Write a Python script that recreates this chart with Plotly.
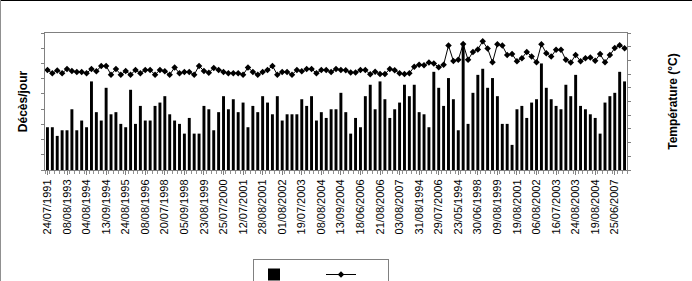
import plotly.graph_objects as go

# Deaths per day (bars, left axis) - one value per observation day
deces = [28.1, 28.1, 22.4, 26.1, 26.1, 39.9, 26.1, 32.5, 28.1, 58.2,
         38.0, 32.5, 54.0, 36.6, 38.0, 30.3, 28.1, 52.7, 30.3, 42.1,
         32.5, 32.5, 42.1, 44.3, 48.5, 36.6, 32.5, 30.3, 23.9, 34.2,
         23.9, 23.9, 42.1, 39.9, 26.1, 38.0, 48.5, 39.9, 46.5, 38.0,
         44.3, 28.1, 42.1, 38.0, 48.5, 44.3, 36.6, 48.5, 32.5, 36.6,
         36.6, 36.6, 46.5, 42.1, 48.5, 32.5, 38.0, 34.2, 39.9, 39.9,
         50.7, 38.0, 23.9, 34.2, 28.1, 48.5, 56.0, 39.9, 58.2, 46.5,
         34.2, 39.9, 44.3, 56.0, 48.5, 56.0, 38.0, 36.6, 28.1, 64.5,
         54.0, 42.1, 60.4, 46.5, 26.1, 83.4, 30.3, 50.7, 62.5, 66.5,
         54.0, 60.4, 48.5, 30.3, 30.3, 16.5, 39.9, 42.1, 34.2, 44.3,
         46.5, 70.0, 54.0, 46.5, 42.1, 39.9, 56.0, 48.5, 62.5, 42.1,
         39.9, 36.6, 34.2, 23.9, 44.3, 48.5, 50.7, 64.5, 58.2]

# Temperature (line, right axis)
temperature = [36.5, 35.3, 36.3, 35.3, 36.9, 36.1, 35.8, 35.8, 35.3, 36.9,
               36.0, 38.0, 38.0, 34.8, 36.9, 34.8, 36.1, 34.8, 36.5, 35.3,
               36.5, 36.5, 34.8, 36.5, 36.0, 34.8, 37.4, 35.3, 35.8, 35.8,
               34.8, 38.0, 36.1, 35.5, 37.2, 36.5, 35.8, 35.3, 35.3, 35.3,
               34.8, 37.4, 35.8, 34.8, 35.8, 36.5, 38.0, 34.8, 35.8, 35.8,
               34.8, 36.5, 36.0, 36.9, 36.9, 35.3, 36.5, 36.5, 35.8, 36.9,
               36.5, 36.4, 35.6, 35.6, 36.5, 36.5, 34.9, 35.9, 35.0, 35.0,
               36.9, 36.4, 35.3, 35.0, 35.3, 37.7, 38.4, 38.2, 39.2, 38.9,
               37.5, 38.4, 45.4, 39.8, 40.2, 46.0, 40.2, 43.1, 44.0, 47.0,
               44.3, 39.3, 45.9, 45.4, 42.0, 42.3, 39.7, 40.8, 43.1, 41.4,
               39.3, 45.9, 42.6, 41.4, 43.9, 43.9, 40.2, 39.2, 42.0, 39.7,
               40.8, 41.1, 39.9, 42.3, 39.3, 42.0, 44.5, 45.5, 44.4]

# Date labels shown on the axis (every 4th observation)
date_labels = ["24/07/1991", "08/08/1993", "04/08/1994", "13/09/1994", "24/08/1995",
               "08/08/1996", "20/07/1998", "05/09/1998", "23/08/1999", "25/07/2000",
               "12/07/2001", "28/08/2001", "01/08/2002", "19/07/2003", "08/08/2004",
               "13/09/2004", "18/06/2006", "21/08/2006", "03/08/2007", "31/08/1994",
               "29/07/2006", "23/05/1994", "30/06/1998", "09/08/1999", "19/08/2001",
               "06/08/2002", "16/07/2003", "24/08/2003", "19/08/2004", "25/06/2007"]
label_step = 4

x = list(range(len(deces)))
tickvals = [i * label_step for i in range(len(date_labels))]

fig = go.Figure()
fig.add_trace(go.Bar(x=x, y=deces, name="", marker=dict(color="black", line=dict(width=0)),
                     yaxis="y", showlegend=True))
fig.add_trace(go.Scatter(x=x, y=temperature, name="", mode="lines+markers",
                         line=dict(color="black", width=1),
                         marker=dict(symbol="diamond", size=5, color="black"),
                         yaxis="y2", showlegend=True))

axis_font = dict(family="Liberation Sans, Arial, sans-serif", color="black")

fig.update_layout(
    width=692, height=281,
    margin=dict(l=45, r=65, t=33, b=111, autoexpand=False),
    paper_bgcolor="white", plot_bgcolor="white",
    bargap=0.4,
    font=axis_font,
    xaxis=dict(range=[-0.5, len(deces) - 0.5], tickmode="array", tickvals=tickvals,
               ticktext=date_labels, tickangle=-90, tickfont=dict(size=11, color="black"),
               ticks="outside", ticklen=4, tickcolor="#808080",
               minor=dict(ticks="outside", ticklen=3, dtick=1, tick0=0.5, tickcolor="#909090"),
               showline=True, linecolor="#808080", linewidth=1, mirror=True,
               showgrid=False, zeroline=False),
    yaxis=dict(range=[0, 90], dtick=10, showticklabels=False, ticks="outside", ticklen=3,
               tickcolor="#808080", showline=True, linecolor="#808080", showgrid=False,
               zeroline=False,
               title=dict(text="<b>Décès/jour</b>", font=dict(size=12, color="black"), standoff=10)),
    yaxis2=dict(range=[0, 50], dtick=5, overlaying="y", side="right", showticklabels=False,
                ticks="outside", ticklen=3, tickcolor="#808080", showline=True,
                linecolor="#808080", showgrid=False, zeroline=False,
                title=dict(text="<b>Température (°C)</b>", font=dict(size=12, color="black"),
                           standoff=38)),
    legend=dict(orientation="h", x=(253 - 45) / 582, xanchor="left", y=(170 - 259) / 137,
                yanchor="top", bordercolor="#808080", borderwidth=1, bgcolor="white",
                font=dict(size=6), entrywidth=22, entrywidthmode="pixels",
                tracegroupgap=0, itemwidth=30),
)

# outer frame lines of the original figure (top black, left grey)
fig.add_shape(type="line", xref="paper", yref="paper", x0=-45/582, x1=647/582,
              y0=170/137, y1=170/137, line=dict(color="black", width=2))
fig.add_shape(type="line", xref="paper", yref="paper", x0=-44.5/582, x1=-44.5/582,
              y0=170/137, y1=-111/137, line=dict(color="#909090", width=1))

fig.write_html("out.html")
